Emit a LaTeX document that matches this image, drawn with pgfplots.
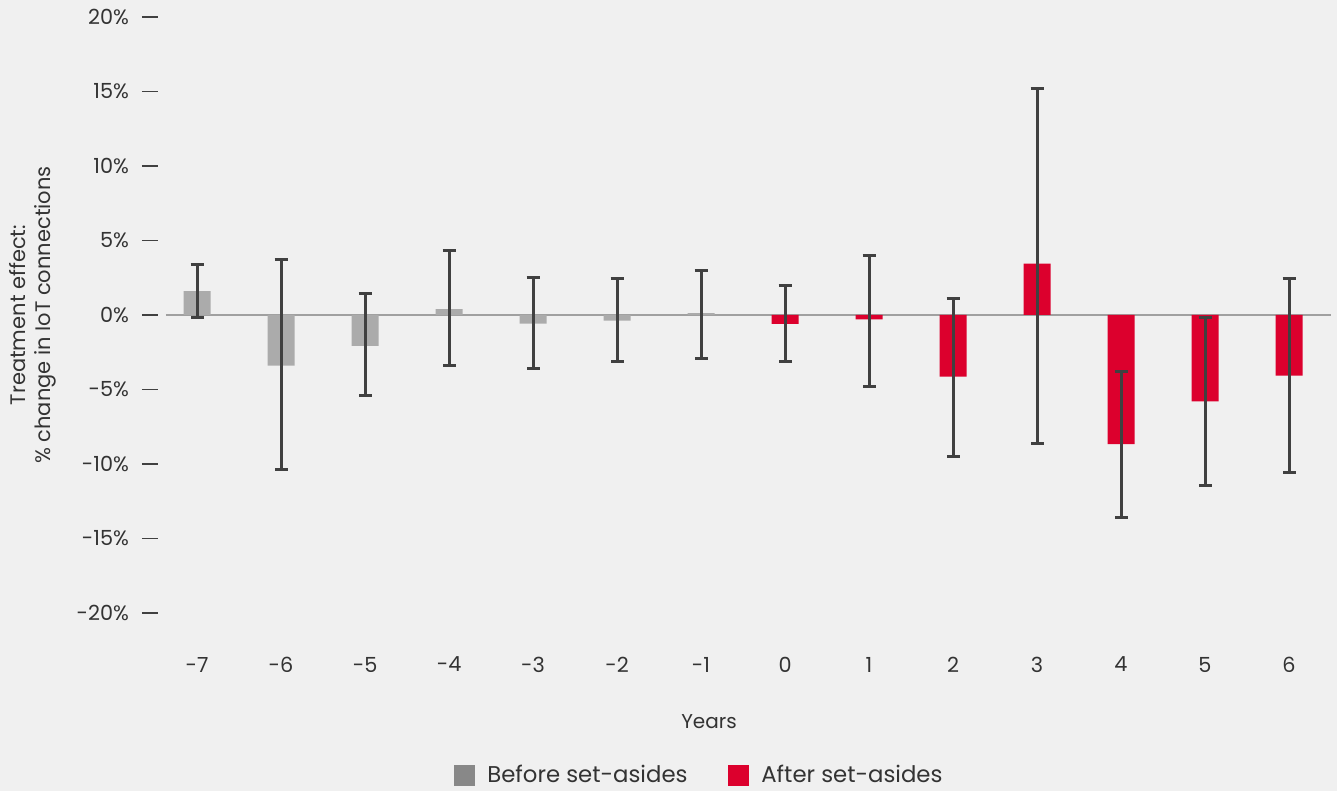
\documentclass[border=0pt]{standalone}
\usepackage{fontspec}
\setmainfont{Poppins}
\usepackage{pgfplots}
\usepackage{pgfplotstable}
\pgfplotsset{compat=1.18}
\definecolor{bg}{HTML}{F0F0F0}
\definecolor{beforebar}{HTML}{ABABAB}
\definecolor{beforeleg}{HTML}{888888}
\definecolor{afterbar}{HTML}{DC002D}
\definecolor{errc}{HTML}{404040}
\definecolor{zeroc}{HTML}{A0A0A0}
\definecolor{txt}{HTML}{333333}

\pgfplotstableread{
x y ep em
-7 1.6 1.8 1.75
-6 -3.4 7.15 6.95
-5 -2.08 3.53 3.34
-4 0.4 3.9 3.8
-3 -0.58 3.08 3.02
-2 -0.38 2.84 2.72
-1 0.13 2.87 3.06
}\before

\pgfplotstableread{
x y ep em
0 -0.6 2.55 2.53
1 -0.3 4.26 4.53
2 -4.14 5.28 5.36
3 3.45 11.75 12.05
4 -8.66 4.86 4.94
5 -5.8 5.65 5.65
6 -4.07 6.49 6.53
}\after

\begin{document}
\begin{tikzpicture}
\fill[bg] (-83pt,-89pt) rectangle (585.5pt,306.5pt);
\begin{axis}[
  at={(0,0)}, anchor=south west,
  scale only axis, width=582.5pt, height=298pt,
  xmin=-7.37, xmax=6.5, ymin=-20, ymax=20,
  axis x line*=bottom, axis y line*=left,
  axis line style={draw=none},
  xtick={-7,-6,-5,-4,-3,-2,-1,0,1,2,3,4,5,6},
  xticklabels={-7,-6,-5,-4,-3,-2,-1,0,1,2,3,4,5,6},
  ytick={-20,-15,-10,-5,0,5,10,15,20},
  yticklabels={-20\%,-15\%,-10\%,-5\%,0\%,5\%,10\%,15\%,20\%},
  x tick style={draw=none},
  y tick style={draw=errc, line width=0.75pt, xshift=-4pt},
  tick align=outside, major tick length=8pt,
  tick label style={font=\fontsize{10.4}{12}\selectfont, text=txt},
  x tick label style={yshift=-10.5pt},
  y tick label style={xshift=-7pt},
  xlabel={Years},
  xlabel style={font=\fontsize{10}{12}\selectfont, text=txt, at={(axis description cs:0.4661,-0.1829)}, anchor=center},
  ylabel={Treatment effect:\\\% change in IoT connections},
  ylabel style={font=\fontsize{10.5}{12.5}\selectfont, text=txt, align=center, at={(axis description cs:-0.1142,0.5)}, anchor=center},
  legend style={at={(axis description cs:0.4584,-0.2718)}, anchor=center, draw=none, fill=none, font=\fontsize{11.4}{13}\selectfont, text=txt, legend columns=-1, /tikz/every even column/.append style={column sep=18pt}},
  clip=false,
]
\addlegendimage{legend image code/.code={\fill[beforeleg] (0pt,-5pt) rectangle (10pt,5pt); \path (14.5pt,0pt);}}
\addlegendentry{Before set-asides}
\addlegendimage{legend image code/.code={\fill[afterbar] (0pt,-5pt) rectangle (10pt,5pt); \path (14.5pt,0pt);}}
\addlegendentry{After set-asides}
\addplot[zeroc, line width=0.8pt, forget plot] coordinates {(-7.37,0) (6.5,0)};
\addplot[ybar, bar width=13.5pt, bar shift=0pt, fill=beforebar, draw=none, forget plot, error bars/.cd, y dir=both, y explicit, error bar style={draw=errc, line width=1.5pt}, error mark options={draw=errc, line width=1.5pt, mark size=3.25pt, rotate=90}] table[x=x,y=y,y error plus=ep,y error minus=em] {\before};
\addplot[ybar, bar width=13.5pt, bar shift=0pt, fill=afterbar, draw=none, forget plot, error bars/.cd, y dir=both, y explicit, error bar style={draw=errc, line width=1.5pt}, error mark options={draw=errc, line width=1.5pt, mark size=3.25pt, rotate=90}] table[x=x,y=y,y error plus=ep,y error minus=em] {\after};
\end{axis}
\pgfresetboundingbox
\path (-83pt,-89pt) rectangle (585.5pt,306.5pt);
\end{tikzpicture}
\end{document}
